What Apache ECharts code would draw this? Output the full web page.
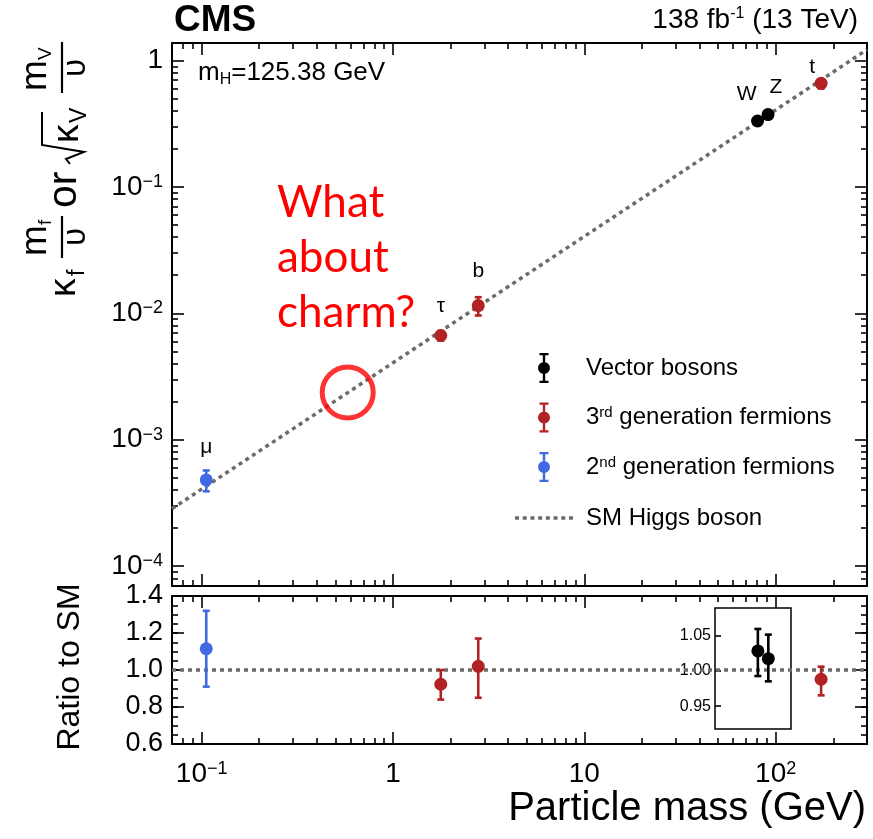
<!DOCTYPE html>
<html><head><meta charset="utf-8">
<script src="https://cdn.jsdelivr.net/npm/echarts@6/dist/echarts.min.js"></script>
<style>html,body{margin:0;padding:0;background:#fff}#c{width:873px;height:839px}</style>
</head><body><div id="c"></div>
<script>
// ---------------- data ----------------
const VB_NAMES = ['W', 'Z'];
const VB_MASS = [80.4, 91.19];
const VB_VALUE = [0.332, 0.373];
const VB_VALUE_LO = [0.326, 0.368];
const VB_VALUE_HI = [0.337, 0.379];
const VB_RATIO = [1.028, 1.017];
const VB_RATIO_LO = [0.9925, 0.985];
const VB_RATIO_HI = [1.059, 1.051];

const G3_NAMES = ['τ', 'b', 't'];
const G3_MASS = [1.777, 2.79, 172.7];
const G3_VALUE = [0.00667, 0.0115, 0.66];
const G3_VALUE_LO = [0.00607, 0.0096, 0.60];
const G3_VALUE_HI = [0.00722, 0.0134, 0.71];
const G3_RATIO = [0.923, 1.02, 0.95];
const G3_RATIO_LO = [0.84, 0.85, 0.863];
const G3_RATIO_HI = [1.0, 1.17, 1.018];

const G2_NAMES = ['μ'];
const G2_MASS = [0.1057];
const G2_VALUE = [0.00048];
const G2_VALUE_LO = [0.00039];
const G2_VALUE_HI = [0.00057];
const G2_RATIO = [1.115];
const G2_RATIO_LO = [0.91];
const G2_RATIO_HI = [1.32];

const SM_MASS = [0.07, 300];
const SM_VALUE = [0.000284, 1.218];
const SM_RATIO = [1, 1];

const CHARM_MASS = [0.58];
const CHARM_VALUE = [0.00236];

const X_TICKS = [0.1, 1, 10, 100];
const X_TICK_LABELS = ['10{sup|−1}', '1', '10', '10{sup|2}'];
const Y_TICKS = [1e-4, 1e-3, 1e-2, 1e-1, 1];
const Y_TICK_LABELS = ['10{sup|−4}', '10{sup|−3}', '10{sup|−2}', '10{sup|−1}', '1'];
const R_TICKS = [0.6, 0.8, 1.0, 1.2, 1.4];
const R_TICK_LABELS = ['0.6', '0.8', '1.0', '1.2', '1.4'];
const INSET_TICKS = [0.95, 1.0, 1.05];
const INSET_TICK_LABELS = ['0.95', '1.00', '1.05'];

const LEGEND_NAMES = ['Vector bosons', '3rd generation fermions', '2nd generation fermions', 'SM Higgs boson'];
const LEGEND_LABELS = ['Vector bosons', '3{sup|rd} generation fermions', '2{sup|nd} generation fermions', 'SM Higgs boson'];

// ---------------- styling / layout ----------------
const FONT = '"Liberation Sans", Arial, Helvetica, sans-serif';
const C_VB = '#000000', C_G3 = '#b22222', C_G2 = '#4169e1', C_SM = '#6b6b6b';
const XMIN = 0.07, XMAX = 300, YMIN = 6.95e-5, YMAX = 1.375, RMIN = 0.6, RMAX = 1.4;
const IXMIN = 48, IXMAX = 119.8, IYMIN = 0.9177, IYMAX = 1.0886;
const VB_LABEL_OFF = [[-11, -27], [8, -27]];
const G3_LABEL_OFF = [[0, -29], [0, -34], [-9, -16]];
const G2_LABEL_OFF = [[0, -33]];

function decadeMinor(lo, hi) {
  const out = [];
  for (let e = -5; e <= 3; e++) for (let k = 2; k <= 9; k++) {
    const v = k * Math.pow(10, e);
    if (v > lo * 1.001 && v < hi * 0.999) out.push(v);
  }
  return out;
}
const X_MINOR = decadeMinor(XMIN, XMAX);
const Y_MINOR = decadeMinor(YMIN, YMAX);
const R_MINOR = [];
for (let v = 0.65; v < 1.4; v += 0.05) R_MINOR.push(Math.round(v * 100) / 100);

const SUP_RICH = (fs) => ({ sup: { fontSize: fs, fontFamily: FONT, color: '#000', verticalAlign: 'top' } });

function labelFor(ticks, labels, isLog) {
  return function (v) {
    for (let i = 0; i < ticks.length; i++) {
      if (isLog ? Math.abs(Math.log10(v) - Math.log10(ticks[i])) < 1e-6 : Math.abs(v - ticks[i]) < 1e-6) return labels[i];
    }
    return '';
  };
}

function axis(type, gridIndex, position, min, max, ticks, len, showLine, label) {
  const a = {
    type: type, gridIndex: gridIndex, position: position, min: min, max: max,
    axisLine: { show: showLine, onZero: false, lineStyle: { color: '#000', width: 2 } },
    axisTick: { show: ticks.length > 0, inside: true, length: len, customValues: ticks, lineStyle: { color: '#000', width: 1.6 } },
    axisLabel: label || { show: false },
    splitLine: { show: false }, minorTick: { show: false }, minorSplitLine: { show: false },
    splitArea: { show: false }, axisPointer: { show: false }
  };
  if (type === 'log') a.logBase = 10;
  return a;
}

const xLabel = {
  show: true, customValues: X_TICKS, formatter: labelFor(X_TICKS, X_TICK_LABELS, true),
  fontSize: 28, fontFamily: FONT, color: '#000', margin: 16, rich: SUP_RICH(18)
};
const yLabel = {
  show: true, customValues: Y_TICKS, formatter: labelFor(Y_TICKS, Y_TICK_LABELS, true),
  fontSize: 28, fontFamily: FONT, color: '#000', margin: 9, rich: SUP_RICH(18)
};
const rLabel = {
  show: true, customValues: R_TICKS, formatter: labelFor(R_TICKS, R_TICK_LABELS, false),
  fontSize: 27, fontFamily: FONT, color: '#000', margin: 9
};
const iLabel = {
  show: true, customValues: INSET_TICKS, formatter: labelFor(INSET_TICKS, INSET_TICK_LABELS, false),
  fontSize: 16, fontFamily: FONT, color: '#000', margin: 4
};

const xAxes = [
  axis('log', 0, 'bottom', XMIN, XMAX, X_TICKS, 12, true),
  axis('log', 0, 'top', XMIN, XMAX, X_TICKS, 12, true),
  axis('log', 1, 'bottom', XMIN, XMAX, X_MINOR, 6, false),
  axis('log', 1, 'top', XMIN, XMAX, X_MINOR, 6, false),
  axis('log', 2, 'bottom', XMIN, XMAX, X_TICKS, 12, true, xLabel),
  axis('log', 2, 'top', XMIN, XMAX, X_TICKS, 12, true),
  axis('log', 3, 'bottom', XMIN, XMAX, X_MINOR, 6, false),
  axis('log', 3, 'top', XMIN, XMAX, X_MINOR, 6, false),
  axis('log', 4, 'bottom', IXMIN, IXMAX, [], 0, false),
  axis('log', 4, 'top', IXMIN, IXMAX, [], 0, false)
];
const yAxes = [
  axis('log', 0, 'left', YMIN, YMAX, Y_TICKS, 12, true, yLabel),
  axis('log', 0, 'right', YMIN, YMAX, Y_TICKS, 12, true),
  axis('log', 1, 'left', YMIN, YMAX, Y_MINOR, 6, false),
  axis('log', 1, 'right', YMIN, YMAX, Y_MINOR, 6, false),
  axis('value', 2, 'left', RMIN, RMAX, R_TICKS, 12, true, rLabel),
  axis('value', 2, 'right', RMIN, RMAX, R_TICKS, 12, true),
  axis('value', 3, 'left', RMIN, RMAX, R_MINOR, 6, false),
  axis('value', 3, 'right', RMIN, RMAX, R_MINOR, 6, false),
  axis('value', 4, 'left', IYMIN, IYMAX, INSET_TICKS, 6, false, iLabel),
  axis('value', 4, 'right', IYMIN, IYMAX, [], 0, false)
];

const gTop = { left: 172, top: 43, width: 695, height: 543, containLabel: false, outerBoundsMode: 'none' };
const gBot = { left: 172, top: 596, width: 695, height: 148, containLabel: false, outerBoundsMode: 'none' };
const grids = [
  Object.assign({}, gTop), Object.assign({}, gTop),
  Object.assign({}, gBot), Object.assign({}, gBot),
  { left: 715, top: 608, width: 76, height: 121, show: true, backgroundColor: '#fff', borderColor: '#000', borderWidth: 1.5, containLabel: false, outerBoundsMode: 'none' }
];

function zip3(a, b, c) { return a.map((v, i) => [v, b[i], c[i]]); }
function zip2(a, b) { return a.map((v, i) => [v, b[i]]); }

function errRender(capHalf, lw) {
  return function (params, api) {
    const x = api.value(0), lo = api.value(1), hi = api.value(2);
    const a = api.coord([x, lo]), b = api.coord([x, hi]);
    const st = { stroke: api.visual('color'), lineWidth: lw };
    return {
      type: 'group', children: [
        { type: 'line', shape: { x1: a[0], y1: a[1], x2: b[0], y2: b[1] }, style: st },
        { type: 'line', shape: { x1: a[0] - capHalf, y1: a[1], x2: a[0] + capHalf, y2: a[1] }, style: st },
        { type: 'line', shape: { x1: b[0] - capHalf, y1: b[1], x2: b[0] + capHalf, y2: b[1] }, style: st }
      ]
    };
  };
}
function errSeries(name, xi, yi, mass, lo, hi, color) {
  return {
    name: name, type: 'custom', xAxisIndex: xi, yAxisIndex: yi, renderItem: errRender(3.5, 2.6),
    data: zip3(mass, lo, hi), encode: { x: 0, y: [1, 2] }, itemStyle: { color: color }, z: 3, silent: true
  };
}
function ptSeries(name, xi, yi, mass, val, color, names, offs) {
  return {
    name: name, type: 'scatter', xAxisIndex: xi, yAxisIndex: yi, symbol: 'circle', symbolSize: 13,
    itemStyle: { color: color, opacity: 1 }, z: 4, silent: true,
    data: mass.map((m, i) => {
      const d = { value: [m, val[i]] };
      if (names) d.label = { show: true, formatter: names[i], position: 'inside', offset: offs[i], fontSize: 21, fontFamily: FONT, color: '#000' };
      return d;
    })
  };
}

const ERR_ICON = 'path://M-1.2,-15L1.2,-15L1.2,15L-1.2,15Z M-4.5,-15L4.5,-15L4.5,-12.8L-4.5,-12.8Z M-4.5,12.8L4.5,12.8L4.5,15L-4.5,15Z M6,0A6,6,0,1,1,-6,0A6,6,0,1,1,6,0Z';
let dashPath = 'path://';
for (let k = 0; k < 8; k++) dashPath += 'M' + (k * 7.7) + ',0h4v3.5h-4z ';
const DASH_ICON = dashPath.trim();

const legendFmt = function (name) {
  const i = LEGEND_NAMES.indexOf(name);
  return '{gap|}' + (i >= 0 ? LEGEND_LABELS[i] : name);
};
const legendRich = { gap: { width: 31 }, sup: { fontSize: 15, fontFamily: FONT, color: '#000', verticalAlign: 'top' } };

const series = [
  { name: 'SM Higgs boson', type: 'line', xAxisIndex: 0, yAxisIndex: 0, data: zip2(SM_MASS, SM_VALUE), symbol: 'none', showSymbol: false,
    lineStyle: { color: C_SM, width: 3.5, type: [4, 4] }, itemStyle: { color: C_SM }, z: 2, silent: true },
  { name: 'SM ratio', type: 'line', xAxisIndex: 4, yAxisIndex: 4, data: zip2(SM_MASS, SM_RATIO), symbol: 'none', showSymbol: false,
    lineStyle: { color: C_SM, width: 3.5, type: [4, 4] }, z: 2, silent: true },
  errSeries('VB err', 0, 0, VB_MASS, VB_VALUE_LO, VB_VALUE_HI, C_VB),
  errSeries('G3 err', 0, 0, G3_MASS, G3_VALUE_LO, G3_VALUE_HI, C_G3),
  errSeries('G2 err', 0, 0, G2_MASS, G2_VALUE_LO, G2_VALUE_HI, C_G2),
  ptSeries('Vector bosons', 0, 0, VB_MASS, VB_VALUE, C_VB, VB_NAMES, VB_LABEL_OFF),
  ptSeries('3rd generation fermions', 0, 0, G3_MASS, G3_VALUE, C_G3, G3_NAMES, G3_LABEL_OFF),
  ptSeries('2nd generation fermions', 0, 0, G2_MASS, G2_VALUE, C_G2, G2_NAMES, G2_LABEL_OFF),
  errSeries('G3 ratio err', 4, 4, G3_MASS, G3_RATIO_LO, G3_RATIO_HI, C_G3),
  errSeries('G2 ratio err', 4, 4, G2_MASS, G2_RATIO_LO, G2_RATIO_HI, C_G2),
  errSeries('VB ratio err', 8, 8, VB_MASS, VB_RATIO_LO, VB_RATIO_HI, C_VB),
  ptSeries('G3 ratio', 4, 4, G3_MASS, G3_RATIO, C_G3),
  ptSeries('G2 ratio', 4, 4, G2_MASS, G2_RATIO, C_G2),
  ptSeries('VB ratio', 8, 8, VB_MASS, VB_RATIO, C_VB),
  { name: 'charm', type: 'scatter', xAxisIndex: 0, yAxisIndex: 0, symbol: 'circle', symbolSize: 51,
    itemStyle: { color: 'rgba(0,0,0,0)', borderColor: '#ff0000', borderWidth: 5 }, data: zip2(CHARM_MASS, CHARM_VALUE), z: 5, silent: true }
];

// y-axis title pieces (local frame, rotated to read bottom-to-top)
function t(text, u, v, size, align) {
  return { type: 'text', x: u, y: v, style: { text: text, font: size + 'px ' + FONT, fill: '#000', textAlign: align || 'left', verticalAlign: 'middle', textVerticalAlign: 'middle' } };
}
function bar(u1, u2, v) { return { type: 'line', shape: { x1: u1, y1: v, x2: u2, y2: v }, style: { stroke: '#000', lineWidth: 2.2 } }; }

const yTitle = {
  type: 'group', x: 0, y: 300, rotation: Math.PI / 2, children: [
    t('κ', 3, 65, 37), t('f', 24, 78, 23),
    t('m', 44, 36, 37), t('f', 75, 46, 19), bar(42, 84, 62), t('υ', 63, 76, 33, 'center'),
    t('or', 92, 65, 41),
    { type: 'polyline', shape: { points: [[136, 70], [141, 66], [148, 84], [155, 42], [188, 42]] }, style: { stroke: '#000', lineWidth: 2, fill: null } },
    t('κ', 157, 68, 37), t('V', 177, 80, 23),
    t('m', 209, 36, 37), t('V', 240, 46, 19), bar(207, 258, 62), t('υ', 232, 76, 33, 'center')
  ]
};

const graphics = [
  { type: 'text', left: 174, top: 2, style: { text: 'CMS', font: 'bold 37px ' + FONT, fill: '#000' } },
  { type: 'text', right: 15, top: 6, style: { text: '138 fb{sup|-1} (13 TeV)', font: '28px ' + FONT, fill: '#000',
      rich: { sup: { fontSize: 16, fontFamily: FONT, fill: '#000', verticalAlign: 'top' } } } },
  { type: 'text', left: 198, top: 60, style: { text: 'm{sub|H}=125.38 GeV', font: '26px ' + FONT, fill: '#000',
      rich: { sub: { fontSize: 16, fontFamily: FONT, fill: '#000', verticalAlign: 'bottom', padding: [13, 0, 0, 0] } } } },
  { type: 'text', left: 277, top: 175, style: { text: 'What\nabout\ncharm?', font: '44px Lato, "Open Sans", sans-serif', fill: '#ff0000', lineHeight: 55 } },
  { type: 'text', x: 70, y: 667, rotation: Math.PI / 2, style: { text: 'Ratio to SM', font: '32px ' + FONT, fill: '#000', textAlign: 'center', verticalAlign: 'middle', textVerticalAlign: 'middle' } },
  { type: 'text', right: 7, top: 789, style: { text: 'Particle mass (GeV)', font: '40px ' + FONT, fill: '#000' } },
  yTitle
];

const chart = echarts.init(document.getElementById('c'), null, { renderer: 'canvas' });
chart.setOption({
  animation: false,
  backgroundColor: '#fff',
  grid: grids,
  xAxis: xAxes,
  yAxis: yAxes,
  legend: [
    { data: LEGEND_NAMES.slice(0, 3), orient: 'vertical', left: 538, top: 353, padding: 0, itemWidth: 12, itemHeight: 30, itemGap: 19.5,
      icon: ERR_ICON, formatter: legendFmt, selectedMode: false,
      textStyle: { fontSize: 24, fontFamily: FONT, color: '#000', rich: legendRich } },
    { data: ['SM Higgs boson'], orient: 'vertical', left: 515, top: 506, padding: 0, itemWidth: 58, itemHeight: 4, selectedMode: false,
      icon: DASH_ICON, itemStyle: { color: C_SM }, formatter: function (n) { return '{gap|}' + n; },
      textStyle: { fontSize: 24, fontFamily: FONT, color: '#000', rich: { gap: { width: 8 } } } }
  ],
  graphic: graphics,
  series: series
});
</script></body></html>
